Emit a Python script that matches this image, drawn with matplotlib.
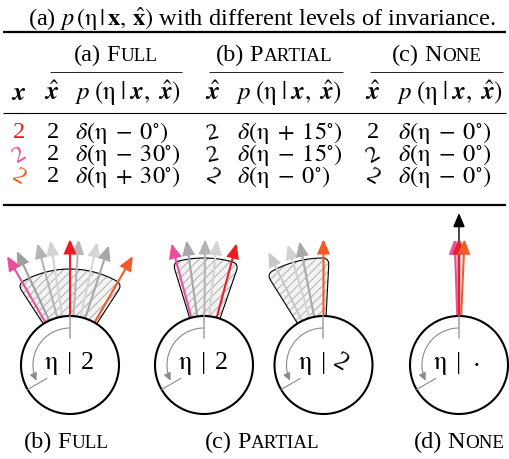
import matplotlib
matplotlib.use('Agg')
import matplotlib.pyplot as plt
import numpy as np
from matplotlib.patches import Circle, FancyArrowPatch, PathPatch
from matplotlib.path import Path

plt.rcParams['font.family'] = ['Liberation Serif', 'DejaVu Serif']
plt.rcParams['mathtext.fontset'] = 'stix'
plt.rcParams['hatch.linewidth'] = 0.7

# ---------------- data ----------------
title = r'(a) $p\,(\mathrm{\eta}\,|\,\mathbf{x},\,\hat{\mathbf{x}})$ with different levels of invariance.'
groups = [('(a)', 'F', 'ULL'), ('(b)', 'P', 'ARTIAL'), ('(c)', 'N', 'ONE')]
captions = [('(b)', 'F', 'ULL'), ('(c)', 'P', 'ARTIAL'), ('(d)', 'N', 'ONE')]
digit = '2'
x_colors = ['#ec1c24', '#ea4f9c', '#f15a29']          # red, pink, orange inputs
x_rot = [0, 30, -30]                                   # orientation of inputs x (deg, ccw)
full_xhat_rot = [0, 0, 0]
full_shift = [0, 30, -30]                              # delta(eta - shift)
partial_xhat_rot = [12, 12, -30]
partial_shift = [-15, 15, 0]
none_xhat_rot = [0, 30, -30]
none_shift = [0, 0, 0]

# arrow angles (deg, clockwise from vertical) per disc
disc_labels = ['2', '2', '2', r'$\cdot$']
disc_label_rot = [0, 0, -30, 0]
colored_angles = [[0, -30, 30], [-15, 15], [0], [-2, 0, 2.5]]
colored_cols = [['#ec1c24', '#ea4f9c', '#f15a29'], ['#ea4f9c', '#ec1c24'], ['#f15a29'],
                ['#ea4f9c', '#ec1c24', '#f15a29']]
gray_angles = [[-25, -15, -9, 4, 12.5, 18], [-8, 0.5, 6], [-26, -16.5, -11], [-0.8, 0.8]]
gray_cols = [['#a0a0a0', '#b4b4b4', '#d2d2d2', '#b8b8b8', '#d6d6d6', '#a8a8a8'],
             ['#a8a8a8', '#b4b4b4', '#d4d4d4'], ['#c8c8c8', '#d2d2d2', '#a8a8a8'],
             ['#b0b0b0', '#c0c0c0']]
wedges = [(-33, 33, 96), (-17, 19, 107), (-32, 3, 107), None]
mean_arrow = [None, None, None, 0]

# ---------------- figure ----------------
W, H = 509, 459
fig = plt.figure(figsize=(W / 100, H / 100), dpi=100)
ax = fig.add_axes([0, 0, 1, 1])
ax.set_xlim(0, W)
ax.set_ylim(H, 0)
ax.axis('off')
renderer = fig.canvas.get_renderer()
FS = 17.5
FST = 17.6


def seq(parts, x, y, align='center'):
    ts, ws = [], []
    for s, kw, gap in parts:
        t = ax.text(0, y, s, ha='left', va='baseline', **kw)
        ts.append(t)
        ws.append(t.get_window_extent(renderer).width + gap)
    tot = sum(ws)
    cur = x - tot / 2 if align == 'center' else x
    for t, w in zip(ts, ws):
        t.set_x(cur)
        cur += w
    return ts


def smallcaps(lbl, x, y, fs):
    a, b, c = lbl
    seq([(a, dict(fontsize=fs), fs * 0.3), (b, dict(fontsize=fs), 0.4),
         (c, dict(fontsize=fs * 0.78), 0)], x, y)


def pt(cx, cy, r, a):
    return (cx + r * np.sin(np.radians(a)), cy - r * np.cos(np.radians(a)))


def shift_text(s):
    sign = '-' if s >= 0 else '+'
    return r'$\delta(\mathrm{\eta}\;%s\;%d^{\circ})$' % (sign, abs(s))


# title
ax.text(262, 26, title, fontsize=FST, ha='center', va='baseline')
# rules
ax.plot([3, 506], [32, 32], color='k', lw=1.6, solid_capstyle='butt')
ax.plot([3, 506], [113, 113], color='k', lw=0.8, solid_capstyle='butt')
ax.plot([3, 506], [205, 205], color='k', lw=1.6, solid_capstyle='butt')
for x0, x1 in [(50, 182), (209, 343), (370, 503)]:
    ax.plot([x0, x1], [72, 72], color='k', lw=0.6, solid_capstyle='butt')
for g, xc in zip(groups, [115.5, 274, 436.5]):
    smallcaps(g, xc, 61, FS)

# header row
hdr_p = r'$p\;(\mathrm{\eta}\;|\;\mathbfit{x},\ \hat{\mathbfit{x}})$'
ax.text(19, 100, r'$\mathbfit{x}$', fontsize=FS + 1, ha='center', va='baseline')
for xh, xp in [(52, 75), (213, 236), (373, 397)]:
    ax.text(xh, 100, r'$\hat{\mathbfit{x}}$', fontsize=FS + 1, ha='center', va='baseline')
    ax.text(xp, 100, hdr_p, fontsize=FS + 0.5, ha='left', va='baseline')

# body rows
rows_y = [139, 161, 183]
for i, y in enumerate(rows_y):
    ax.text(19, y - 6, digit, fontsize=FS, color=x_colors[i], rotation=x_rot[i],
            ha='center', va='center', rotation_mode='anchor')
    for xh, xp, rots, sh in [(53, 75, full_xhat_rot, full_shift),
                             (213, 237, partial_xhat_rot, partial_shift),
                             (373, 398, none_xhat_rot, none_shift)]:
        ax.text(xh, y - 6, digit, fontsize=FS, rotation=rots[i],
                ha='center', va='center', rotation_mode='anchor')
        ax.text(xp, y, shift_text(sh[i]), fontsize=FS, ha='left', va='baseline')

# ---------------- discs ----------------
cxs = [70, 204, 323.5, 459]
cy, R = 365, 49
R_TIP = 126


def wedge_path(cx, a0, a1, r1, r0=R - 3, rc=7):
    pts = []
    pts += [pt(cx, cy, r0, a0)]
    pa = np.array(pt(cx, cy, r1 - rc, a0))
    c = np.array(pt(cx, cy, r1, a0))
    da = np.degrees(rc / r1)
    pb = np.array(pt(cx, cy, r1, a0 + da))
    for t in np.linspace(0, 1, 12):
        pts.append(tuple((1 - t) ** 2 * pa + 2 * t * (1 - t) * c + t ** 2 * pb))
    for a in np.linspace(a0 + da, a1 - da, 40):
        pts.append(pt(cx, cy, r1, a))
    pa = np.array(pt(cx, cy, r1, a1 - da))
    c = np.array(pt(cx, cy, r1, a1))
    pb = np.array(pt(cx, cy, r1 - rc, a1))
    for t in np.linspace(0, 1, 12):
        pts.append(tuple((1 - t) ** 2 * pa + 2 * t * (1 - t) * c + t ** 2 * pb))
    pts.append(pt(cx, cy, r0, a1))
    for a in np.linspace(a1, a0, 20):
        pts.append(pt(cx, cy, r0, a))
    pts.append(pts[0])
    return Path(pts)


def arrow(p0, p1, color, lw=1.5, hl=8.5, hw=3.6, z=3):
    a = FancyArrowPatch(p0, p1, arrowstyle=f'-|>,head_length={hl},head_width={hw}',
                        mutation_scale=1, color=color, lw=lw, shrinkA=0, shrinkB=0,
                        zorder=z, joinstyle='miter')
    ax.add_patch(a)


for k, cx in enumerate(cxs):
    if wedges[k] is not None:
        a0, a1, r1 = wedges[k]
        p = wedge_path(cx, a0, a1, r1)
        ax.add_patch(PathPatch(p, facecolor='#f3f3f3', edgecolor='#b0b0b0', hatch='////',
                               lw=0, zorder=1))
        ax.add_patch(PathPatch(p, facecolor='none', edgecolor='k', lw=0.8, zorder=1.5))
    for a, c in zip(gray_angles[k], gray_cols[k]):
        arrow(pt(cx, cy, R, a), pt(cx, cy, R_TIP, a), c, z=2)
    if mean_arrow[k] is not None:
        a = mean_arrow[k]
        arrow(pt(cx, cy, R, a), pt(cx, cy, 152, a), 'k', lw=1.0, z=2.5)
    for a, c in zip(colored_angles[k], colored_cols[k]):
        arrow(pt(cx, cy, R, a), pt(cx, cy, R_TIP, a), c, z=3)
    ax.add_patch(Circle((cx, cy), R, facecolor='white', edgecolor='k', lw=1.5, zorder=4))
    # reference tick
    ax.plot([cx, cx], [cy - R, cy - 27], color='#a0a0a0', lw=1.1, zorder=5)
    # rotation arc
    phis = np.radians(np.linspace(92, 205, 60))
    arc = [(cx + 37 * np.cos(p_), cy - 37 * np.sin(p_)) for p_ in phis]
    ax.add_patch(FancyArrowPatch(path=Path(arc), arrowstyle='-|>,head_length=4.5,head_width=2.2',
                                 mutation_scale=1, color='#8a8a8a', lw=0.8, zorder=5))
    p_in = (cx + 27 * np.cos(np.radians(210)), cy - 27 * np.sin(np.radians(210)))
    p_out = (cx + R * np.cos(np.radians(210)), cy - R * np.sin(np.radians(210)))
    ax.plot([p_in[0], p_out[0]], [p_in[1], p_out[1]], color='#8a8a8a', lw=0.8, zorder=5)
    # label
    ax.text(cx - 19, 369, r'$\mathrm{\eta}$', fontsize=FS * 1.08, ha='center', va='baseline', zorder=6)
    ax.text(cx, 369, '|', fontsize=FS * 1.08, ha='center', va='baseline', zorder=6)
    ax.text(cx + 17, 363, disc_labels[k], fontsize=FS * 1.08, ha='center', va='center',
            rotation=disc_label_rot[k], rotation_mode='anchor', zorder=6)

for cap, xc in zip(captions, [66, 262, 459]):
    smallcaps(cap, xc, 448, FS)

fig.savefig('out.png', dpi=100)
